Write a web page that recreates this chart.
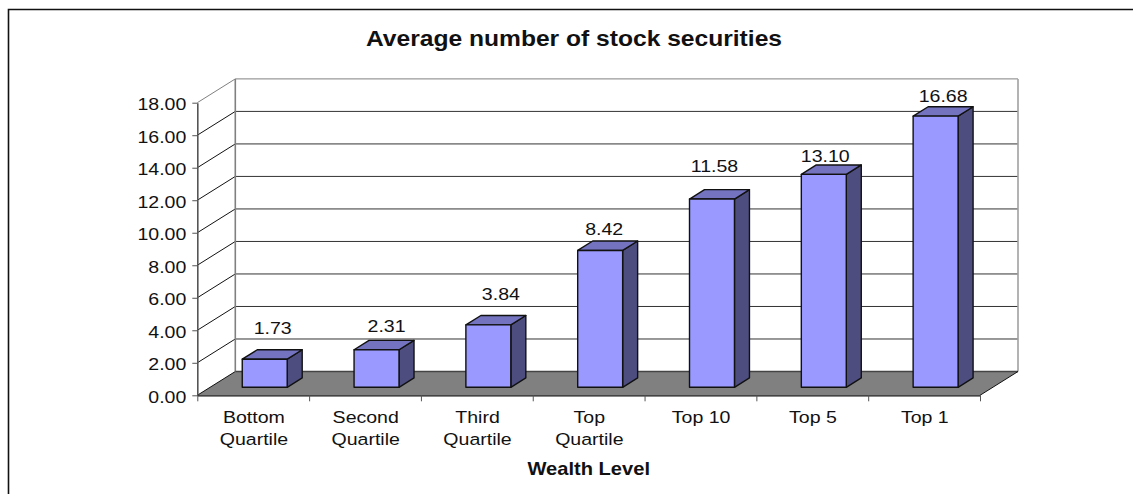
<!DOCTYPE html>
<html>
<head>
<meta charset="utf-8">
<script src="https://cdn.jsdelivr.net/npm/d3@7"></script>
<style>
  html, body { margin: 0; padding: 0; background: #fff; }
  svg { display: block; }
  text { font-family: "Liberation Sans", Arial, sans-serif; fill: #111; }
</style>
</head>
<body>
<div id="chart"></div>
<script>
// Data
const categories = [
  ["Bottom", "Quartile"],
  ["Second", "Quartile"],
  ["Third", "Quartile"],
  ["Top", "Quartile"],
  ["Top 10"],
  ["Top 5"],
  ["Top 1"],
];
const values = [1.73, 2.31, 3.84, 8.42, 11.58, 13.1, 16.68];
const yTicks = [0, 2, 4, 6, 8, 10, 12, 14, 16, 18];

// Dimensions
const dimensions = {
  width: 1133,
  height: 494,
  left: 197.3,
  right: 980,
  bottom: 395.3,
  top: 102.7,
  depthX: 38,
  depthY: 23.8,
};
const depthX = dimensions.depthX;
const depthY = dimensions.depthY;

// Bars sit a little way back on the floor, and the labels were placed by hand in the original
const barDepthX = 15;
const barDepthY = 9.4;
const barLift = 8;
const labelShiftX = [8, 10, 12.5, 4, 2.5, 1.5, 7.5];
const labelGap = [15.5, 8.7, 15.7, 6, 18, 2.5, 5];

// The reference was stretched sideways, so the text is too
const labelSize = "17px";
const stretch = 1.15;

const svg = d3
  .select("#chart")
  .append("svg")
  .attr("width", dimensions.width)
  .attr("height", dimensions.height);

// Scales
const xScale = d3
  .scaleBand()
  .domain(d3.range(categories.length))
  .range([dimensions.left, dimensions.right])
  .paddingInner(0)
  .paddingOuter(0);

const xEdge = d3
  .scaleLinear()
  .domain([0, categories.length])
  .range([dimensions.left, dimensions.right]);

const yScale = d3
  .scaleLinear()
  .domain([0, 18])
  .range([dimensions.bottom, dimensions.top]);

const barWidth = xScale.bandwidth() * 0.402;
const barX = (i) => xScale(i) + xScale.bandwidth() * 0.402;
const points = (arr) => arr.map((p) => p.join(",")).join(" ");
const place = (x, y, k = stretch) => `translate(${x},${y}) scale(${k},1)`;

// Outer frame, only top and left show in the picture
svg
  .append("path")
  .attr("d", `M8.5,${dimensions.height}V9.5H${dimensions.width}`)
  .attr("fill", "none")
  .attr("stroke", "#111")
  .attr("stroke-width", 1.6);

// Floor
svg
  .append("polygon")
  .attr(
    "points",
    points([
      [dimensions.left, dimensions.bottom],
      [dimensions.right, dimensions.bottom],
      [dimensions.right + depthX, dimensions.bottom - depthY],
      [dimensions.left + depthX, dimensions.bottom - depthY],
    ])
  )
  .attr("fill", "#808080");

// Gridlines on the back wall and the side wall
const grid = svg.append("g");
grid
  .selectAll("line.back")
  .data(yTicks.slice(1))
  .join("line")
  .attr("class", "back")
  .attr("x1", dimensions.left + depthX)
  .attr("x2", dimensions.right + depthX)
  .attr("y1", (d) => yScale(d) - depthY)
  .attr("y2", (d) => yScale(d) - depthY)
  .attr("stroke", (d) => (d === 18 ? "#808080" : "#333"))
  .attr("stroke-width", 1);

grid
  .selectAll("line.side")
  .data(yTicks)
  .join("line")
  .attr("class", "side")
  .attr("x1", dimensions.left)
  .attr("x2", dimensions.left + depthX)
  .attr("y1", (d) => yScale(d))
  .attr("y2", (d) => yScale(d) - depthY)
  .attr("stroke", (d) => (d === 18 ? "#808080" : "#111"))
  .attr("stroke-width", 1);

// Wall edges
grid
  .selectAll("line.wall")
  .data([dimensions.left + depthX, dimensions.right + depthX])
  .join("line")
  .attr("class", "wall")
  .attr("x1", (d) => d)
  .attr("x2", (d) => d)
  .attr("y1", dimensions.top - depthY)
  .attr("y2", dimensions.bottom - depthY)
  .attr("stroke", (d, i) => (i ? "#a0a0a0" : "#808080"))
  .attr("stroke-width", 1.6);

// Back and right edge of the floor
svg
  .append("line")
  .attr("x1", dimensions.left + depthX)
  .attr("x2", dimensions.right + depthX)
  .attr("y1", dimensions.bottom - depthY)
  .attr("y2", dimensions.bottom - depthY)
  .attr("stroke", "#444")
  .attr("stroke-width", 1.6);
svg
  .append("line")
  .attr("x1", dimensions.right)
  .attr("x2", dimensions.right + depthX)
  .attr("y1", dimensions.bottom)
  .attr("y2", dimensions.bottom - depthY)
  .attr("stroke", "#111");

// Axes
const yAxis = d3
  .axisLeft(yScale)
  .tickValues(yTicks)
  .tickFormat(d3.format(".2f"))
  .tickSizeInner(5)
  .tickSizeOuter(0);

const yAxisGroup = svg
  .append("g")
  .attr("transform", `translate(${dimensions.left}, 0)`)
  .call(yAxis);
yAxisGroup.select(".domain").attr("stroke", "#555").attr("stroke-width", 1.6);
yAxisGroup.selectAll(".tick line").attr("stroke", "#555");
yAxisGroup
  .selectAll("text")
  .attr("x", 0)
  .attr("dy", 0)
  .attr("transform", place(-11, 7))
  .attr("fill", "#111")
  .style("font-size", labelSize);

const xAxis = d3
  .axisBottom(xEdge)
  .tickValues(d3.range(categories.length + 1))
  .tickFormat(() => "")
  .tickSizeInner(6)
  .tickSizeOuter(0);

const xAxisGroup = svg
  .append("g")
  .attr("transform", `translate(0, ${dimensions.bottom})`)
  .call(xAxis);
xAxisGroup.select(".domain").attr("stroke", "#111").attr("stroke-width", 1.2);
xAxisGroup.selectAll(".tick line").attr("stroke", "#555");

// Category labels, one text per line
svg
  .append("g")
  .selectAll("text")
  .data(categories.flatMap((lines, i) => lines.map((line, j) => ({ line, i, j }))))
  .join("text")
  .attr("transform", (d) =>
    place(xScale(d.i) + xScale.bandwidth() / 2 + 0.7, 422.7 + d.j * 22.3)
  )
  .attr("text-anchor", "middle")
  .style("font-size", labelSize)
  .text((d) => d.line);

// Bars
const bars = svg
  .append("g")
  .selectAll("g")
  .data(values)
  .join("g");

const barBottom = yScale(0) - barLift;
const barTop = (d) => yScale(d) - barLift;

bars
  .append("polygon")
  .attr("points", (d, i) =>
    points([
      [barX(i) + barWidth, barTop(d)],
      [barX(i) + barWidth + barDepthX, barTop(d) - barDepthY],
      [barX(i) + barWidth + barDepthX, barBottom - barDepthY],
      [barX(i) + barWidth, barBottom],
    ])
  )
  .attr("fill", "#4d4d80");

bars
  .append("polygon")
  .attr("points", (d, i) =>
    points([
      [barX(i), barTop(d)],
      [barX(i) + barDepthX, barTop(d) - barDepthY],
      [barX(i) + barWidth + barDepthX, barTop(d) - barDepthY],
      [barX(i) + barWidth, barTop(d)],
    ])
  )
  .attr("fill", "#7373bf");

bars
  .append("rect")
  .attr("x", (d, i) => barX(i))
  .attr("y", (d) => barTop(d))
  .attr("width", barWidth)
  .attr("height", (d) => barBottom - barTop(d))
  .attr("fill", "#9999ff");

bars
  .selectAll("polygon, rect")
  .attr("stroke", "#111")
  .attr("stroke-width", 1.4)
  .attr("stroke-linejoin", "round");

// Value labels
bars
  .append("text")
  .attr("transform", (d, i) =>
    place(
      barX(i) + barWidth / 2 + labelShiftX[i],
      barTop(d) - barDepthY - labelGap[i]
    )
  )
  .attr("text-anchor", "middle")
  .style("font-size", labelSize)
  .text((d) => d3.format(".2f")(d));

// Titles
svg
  .append("text")
  .attr("transform", place(574, 46))
  .attr("text-anchor", "middle")
  .style("font-size", "21.4px")
  .style("font-weight", "bold")
  .text("Average number of stock securities");

svg
  .append("text")
  .attr("transform", place(588.7, 475))
  .attr("text-anchor", "middle")
  .style("font-size", "17.5px")
  .style("font-weight", "bold")
  .text("Wealth Level");
</script>
</body>
</html>
